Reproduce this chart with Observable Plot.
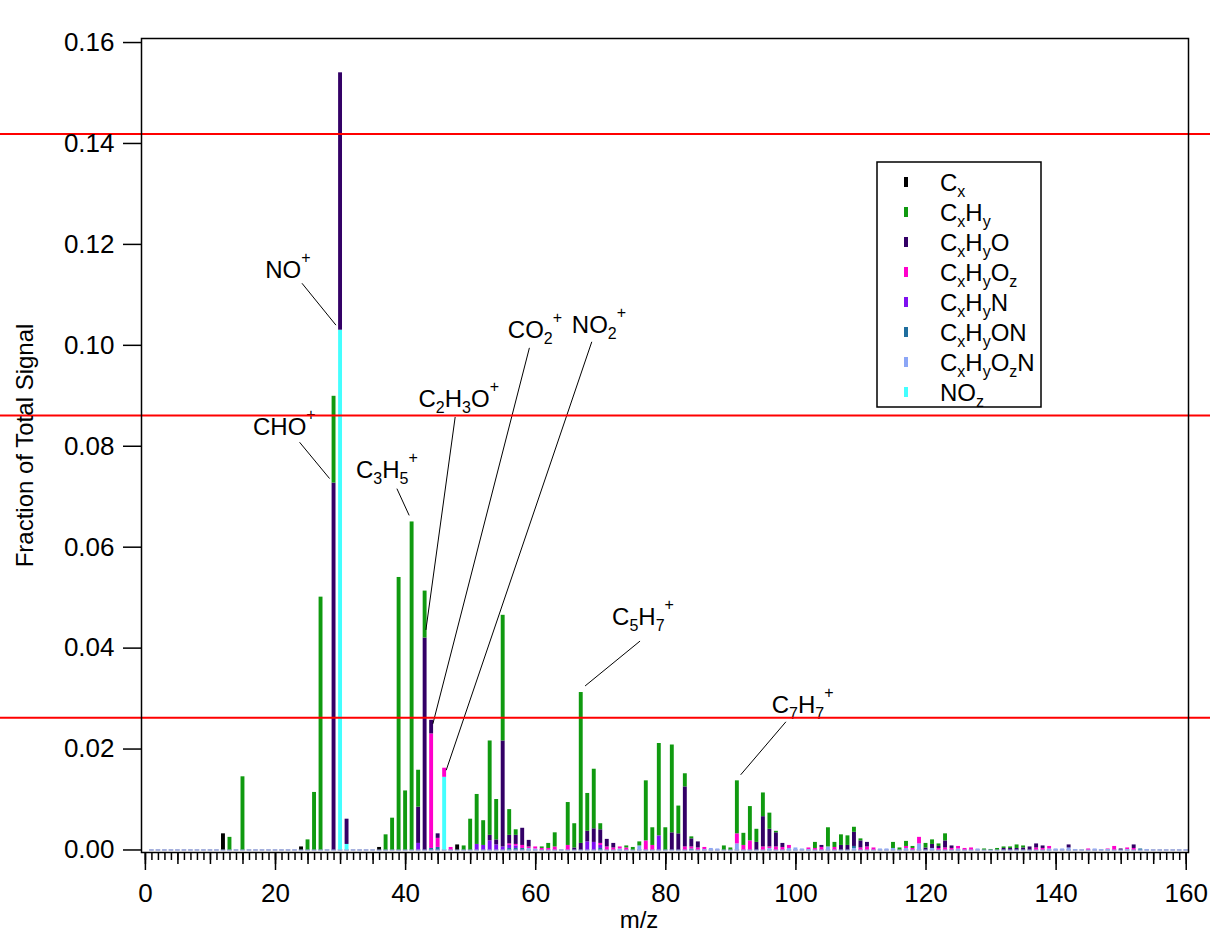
<!DOCTYPE html>
<html>
<head>
<meta charset="utf-8">
<script src="https://cdn.jsdelivr.net/npm/d3@7"></script>
<script src="https://cdn.jsdelivr.net/npm/@observablehq/plot@0.6"></script>
<style>
  html, body { margin: 0; padding: 0; background: #fff; }
  #chart svg { display: block; }
</style>
</head>
<body>
<div id="chart"></div>
<script>
// ---------- categories ----------
const families = ["Cx", "CxHy", "CxHyO", "CxHyOz", "CxHyN", "CxHyON", "CxHyOzN", "NOz"];
const legendLabels = ["C_x", "C_xH_y", "C_xH_yO", "C_xH_yO_z", "C_xH_yN", "C_xH_yON", "C_xH_yO_zN", "NO_z"];
const familyColors = ["#000000", "#109a10", "#330066", "#ff00cc", "#7f10f0", "#1f6e9e", "#8ca6f6", "#44ffff"];
// stacking order, bottom -> top
const stackOrder = ["NOz", "CxHyOzN", "CxHyON", "CxHyN", "CxHyOz", "CxHyO", "CxHy", "Cx"];

// ---------- series values: [m/z, fraction of total signal] ----------
const Cx = [[12,0.0032],[24,0.0006],[36,0.0005],[48,0.0010]];
const CxHy = [[13,0.0025],[15,0.0145],[25,0.0020],[26,0.0114],[27,0.0501],[29,0.0172],[37,0.0030],[38,0.0063],
  [39,0.0540],[40,0.0117],[41,0.0650],[42,0.0073],[43,0.0093],[49,0.0008],[50,0.0061],[51,0.0099],[52,0.0049],
  [53,0.0187],[54,0.0080],[55,0.0249],[56,0.0051],[57,0.0011],[61,0.0003],[62,0.0010],[63,0.0028],[65,0.0085],
  [66,0.0048],[67,0.0299],[68,0.0075],[69,0.0118],[70,0.0012],[74,0.0004],[75,0.0005],[76,0.0008],[77,0.0119],
  [78,0.0035],[79,0.0183],[80,0.0044],[81,0.0174],[82,0.0055],[83,0.0026],[84,0.0004],[89,0.0008],[90,0.0004],
  [91,0.0105],[92,0.0024],[93,0.0068],[94,0.0026],[95,0.0047],[96,0.0032],[97,0.0003],[103,0.0012],[105,0.0038],
  [106,0.0010],[107,0.0021],[108,0.0019],[109,0.0010],[110,0.0004],[115,0.0012],[116,0.0004],[117,0.0010],
  [118,0.0004],[120,0.0009],[121,0.0009],[122,0.0005],[123,0.0014],[129,0.0002],[130,0.0001],[131,0.0003],
  [132,0.0003],[133,0.0003],[134,0.0007],[135,0.0004]];
const CxHyO = [[29,0.0727],[30,0.0510],[31,0.0050],[42,0.0072],[43,0.0420],[44,0.0027],[45,0.0009],[53,0.0011],
  [54,0.0010],[55,0.0210],[56,0.0017],[57,0.0018],[58,0.0034],[59,0.0013],[66,0.0004],[67,0.0013],[68,0.0021],
  [69,0.0027],[70,0.0027],[71,0.0015],[72,0.0009],[81,0.0034],[82,0.0032],[83,0.0119],[84,0.0016],[85,0.0012],
  [94,0.0015],[95,0.0060],[96,0.0035],[97,0.0028],[98,0.0008],[104,0.0004],[107,0.0009],[108,0.0009],[109,0.0028],
  [110,0.0014],[111,0.0009],[120,0.0004],[121,0.0008],[122,0.0004],[123,0.0014],[124,0.0005],[132,0.0003],
  [133,0.0003],[134,0.0003],[135,0.0004],[136,0.0006],[137,0.0008],[138,0.0005],[142,0.0006],[150,0.0002],[152,0.0007]];
const CxHyOz = [[44,0.0227],[45,0.0018],[46,0.0018],[47,0.0005],[56,0.0003],[57,0.0003],[58,0.0006],[59,0.0003],
  [60,0.0004],[61,0.0003],[62,0.0003],[63,0.0006],[65,0.0009],[70,0.0004],[71,0.0006],[72,0.0004],[73,0.0004],
  [74,0.0004],[77,0.0018],[78,0.0009],[83,0.0006],[84,0.0004],[85,0.0004],[86,0.0004],[91,0.0020],[92,0.0009],
  [93,0.0018],[95,0.0006],[96,0.0003],[97,0.0006],[98,0.0005],[99,0.0006],[102,0.0003],[103,0.0003],[104,0.0005],
  [106,0.0005],[110,0.0004],[111,0.0006],[112,0.0004],[117,0.0004],[118,0.0003],[119,0.0013],[122,0.0003],
  [123,0.0004],[124,0.0003],[125,0.0005],[126,0.0003],[127,0.0004],[137,0.0004],[138,0.0003],[139,0.0005],
  [145,0.0002],[148,0.0001],[149,0.0007],[151,0.0003],[152,0.0003]];
const CxHyN = [[42,0.0013],[51,0.0011],[52,0.0009],[53,0.0018],[54,0.0010],[55,0.0006],[56,0.0006],[57,0.0005],
  [68,0.0016],[69,0.0015],[70,0.0006],[79,0.0028]];
const CxHyON = [[44,0.0003],[45,0.0005],[56,0.0003],[57,0.0003],[58,0.0003],[70,0.0003],[84,0.0002],[109,0.0004],[153,0.0002]];
const CxHyOzN = [[59,0.0003],[60,0.0002],[73,0.0002],[76,0.0008],[86,0.0001],[87,0.0003],[88,0.0002],[91,0.0012],
  [96,0.0003],[99,0.0003],[100,0.0004],[101,0.0002],[102,0.0001],[105,0.0006],[109,0.0003],[113,0.0002],[114,0.0002],
  [115,0.0003],[117,0.0003],[119,0.0012],[121,0.0003],[125,0.0002],[128,0.0002],[139,0.0002],[140,0.0002],
  [141,0.0002],[142,0.0004],[143,0.0001],[146,0.0002],[147,0.0001],[148,0.0001],[151,0.0001],[154,0.0001]];
const NOz = [[30,0.1030],[31,0.0011],[46,0.0144]];

// m/z channels shown with an empty (zero) bar
const mzChannels = d3.range(1, 161);
// reference levels (red lines)
const redLevels = [0.1419, 0.0861, 0.0262];
// tick values
const xMajorTicks = d3.range(0, 161, 20);
const xMidTicks = d3.range(0, 161, 5);
const xMinorTicks = d3.range(0, 161, 1);
const yTicks = d3.range(0, 9).map(i => i * 0.02);

// annotations: label (left, baseline) and leader line, in data units
const annotations = [
  {label: "NO^+",     lx: 18.43, ly: 0.1133, x1: 24.07, y1: 0.1123, x2: 29.29, y2: 0.1040},
  {label: "CHO^+",    lx: 16.54, ly: 0.0822, x1: 23.70, y1: 0.0808, x2: 28.31, y2: 0.0736},
  {label: "C_3H_5^+", lx: 32.37, ly: 0.0737, x1: 38.66, y1: 0.0716, x2: 40.55, y2: 0.0663},
  {label: "C_2H_3O^+",lx: 41.98, ly: 0.0878, x1: 47.62, y1: 0.0858, x2: 43.12, y2: 0.0436},
  {label: "CO_2^+",   lx: 55.71, ly: 0.1015, x1: 59.03, y1: 0.0995, x2: 44.19, y2: 0.0250},
  {label: "NO_2^+",   lx: 65.55, ly: 0.1024, x1: 68.62, y1: 0.1007, x2: 46.24, y2: 0.0158},
  {label: "C_5H_7^+", lx: 71.74, ly: 0.0446, x1: 76.04, y1: 0.0414, x2: 67.59, y2: 0.0325},
  {label: "C_7H_7^+", lx: 96.27, ly: 0.0272, x1: 98.46, y1: 0.0254, x2: 91.51, y2: 0.0149}
];

// ---------- build stacked rows ----------
const seriesByFamily = {Cx, CxHy, CxHyO, CxHyOz, CxHyN, CxHyON, CxHyOzN, NOz};
const rows = [];
for (const f of families) for (const [mz, v] of seriesByFamily[f]) rows.push({mz, family: f, value: v});
const stacked = [];
for (const [mz, group] of d3.group(rows, d => d.mz)) {
  group.sort((a, b) => stackOrder.indexOf(a.family) - stackOrder.indexOf(b.family));
  let acc = 0;
  for (const r of group) { stacked.push({...r, y1: acc, y2: acc + r.value}); acc += r.value; }
}

const FONT = "'Liberation Sans', Arial, Helvetica, sans-serif";

const plot = Plot.plot({
  width: 1210,
  height: 936,
  marginLeft: 141,
  marginRight: 22,
  marginTop: 38,
  marginBottom: 84,
  style: {fontFamily: FONT, fontSize: "24px", background: "white", color: "black", overflow: "visible"},
  x: {domain: [-0.6, 160.35]},
  y: {domain: [-0.0005, 0.1608]},
  color: {domain: families, range: familyColors},
  marks: [
    Plot.ruleY(mzChannels, {y: 0, x1: d => d - 0.36, x2: d => d + 0.36, stroke: "#6f80c8", strokeWidth: 1.2}),
    Plot.rect(stacked, {x1: d => d.mz - 0.3, x2: d => d.mz + 0.3, y1: "y1", y2: "y2", fill: "family"}),
    Plot.link(annotations, {x1: "x1", y1: "y1", x2: "x2", y2: "y2", stroke: "black", strokeWidth: 1}),
    Plot.text(annotations, {x: "lx", y: "ly", text: "label", textAnchor: "start", lineAnchor: "bottom", fontSize: 24, fill: "black"}),
    Plot.ruleY(redLevels, {x1: -25, x2: 168, stroke: "#ff0000", strokeWidth: 2}),
    Plot.frame({stroke: "black", strokeWidth: 1.5}),
    Plot.axisX(xMinorTicks, {tickSize: 8, strokeWidth: 1.5, tickFormat: () => "", fill: "none", label: null}),
    Plot.axisX(xMidTicks, {tickSize: 12, strokeWidth: 1.5, tickFormat: () => "", fill: "none", label: null}),
    Plot.axisX(xMajorTicks, {tickSize: 18, tickPadding: 13, strokeWidth: 1.5, fontSize: 26, fill: "black", label: null, tickFormat: d3.format("d")}),
    Plot.axisY(yTicks, {tickSize: 18, tickPadding: 9, strokeWidth: 1.5, fontSize: 26, fill: "black", label: null, tickFormat: d3.format(".2f")}),
    Plot.text(["Fraction of Total Signal"], {text: d => d, frameAnchor: "left", textAnchor: "middle", lineAnchor: "middle", dx: -116, rotate: -90, fontSize: 24, fill: "black"}),
    Plot.text(["m/z"], {text: d => d, frameAnchor: "bottom", textAnchor: "middle", lineAnchor: "middle", dx: -26, dy: 68, fontSize: 24, fill: "black"})
  ]
});

document.getElementById("chart").appendChild(plot);

// ---------- legend ----------
const svg = d3.select(plot.tagName.toLowerCase() === "svg" ? plot : plot.querySelector("svg"));
const lg = svg.append("g").attr("font-family", FONT).attr("font-size", 24).attr("fill", "black").attr("text-anchor", "start");
lg.append("rect").attr("x", 877).attr("y", 162).attr("width", 164).attr("height", 245)
  .attr("fill", "white").attr("stroke", "black").attr("stroke-width", 1.5);
families.forEach((f, i) => {
  const cy = 182 + 30 * i;
  lg.append("rect").attr("x", 904).attr("y", cy - 5).attr("width", 4).attr("height", 10).attr("fill", familyColors[i]);
  lg.append("text").attr("x", 940).attr("y", cy).attr("dy", "0.36em").attr("text-anchor", "start").text(legendLabels[i]);
});

// ---------- sub/superscripts ----------
function richify(el) {
  const s = el.textContent;
  if (!/[_^]/.test(s)) return;
  const segs = [];
  for (let i = 0; i < s.length; i++) {
    const c = s[i];
    if ((c === "_" || c === "^") && i + 1 < s.length) { segs.push({t: s[i + 1], k: c}); i++; }
    else if (segs.length && segs[segs.length - 1].k === null) segs[segs.length - 1].t += c;
    else segs.push({t: c, k: null});
  }
  while (el.firstChild) el.removeChild(el.firstChild);
  let cur = 0;
  for (const sg of segs) {
    const target = sg.k === "_" ? 6 : sg.k === "^" ? -15 : 0;
    const ts = document.createElementNS("http://www.w3.org/2000/svg", "tspan");
    if (target !== cur) ts.setAttribute("dy", target - cur);
    if (sg.k) ts.setAttribute("font-size", 16);
    ts.textContent = sg.t;
    el.appendChild(ts);
    cur = target;
  }
}
svg.selectAll("text").each(function () { richify(this); });
</script>
</body>
</html>
